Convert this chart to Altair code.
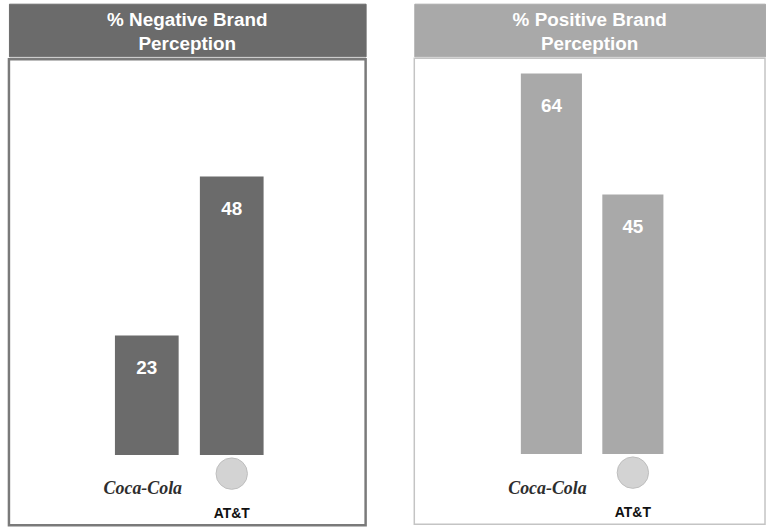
import altair as alt
import pandas as pd

brands = ["Coca-Cola", "AT&T"]
negative = [23, 48]
positive = [64, 45]
titles = ["% Negative Brand\nPerception", "% Positive Brand\nPerception"]

HEADER_H = 53
BODY_H = 469


def panel(title, values, color, border, border_w, width, x_range):
    df = pd.DataFrame({"brand": brands, "value": values})

    header = (
        alt.Chart(pd.DataFrame({"t": [title]}))
        .mark_text(color="white", font="Liberation Sans", fontWeight="bold",
                   fontSize=19, lineBreak="\n", lineHeight=25,
                   baseline="middle", align="center")
        .encode(text="t:N", x=alt.value(width / 2), y=alt.value(16))
        .properties(width=width, height=HEADER_H,
                    view=alt.ViewBackground(fill=color, stroke=color))
    )

    x = alt.X("brand:N", sort=brands, axis=None,
              scale=alt.Scale(paddingInner=0.25, paddingOuter=0.125, range=x_range))
    y = alt.Y("value:Q", axis=None,
              scale=alt.Scale(domain=[-6.8, 66.4], zero=False, nice=False))

    base = alt.Chart(df)
    bars = base.mark_bar(color=color).encode(x=x, y=y, y2=alt.datum(4.25))
    labels = base.mark_text(dy=33, color="white", font="Liberation Sans",
                            fontWeight="bold", fontSize=19).encode(
        x=x, y=y, text="value:Q")

    coke_df = pd.DataFrame({"brand": ["Coca-Cola"], "logo": ["Coca-Cola"]})
    att_df = pd.DataFrame({"brand": ["AT&T"], "logo": ["AT&T"]})

    coke = alt.Chart(coke_df).mark_text(
        font="Liberation Serif", fontStyle="italic", fontWeight="bold",
        fontSize=18, color="#2e2e2e", dx=-4).encode(
        x=x, y=alt.value(433), text="logo:N")
    globe = alt.Chart(att_df).mark_point(
        shape="circle", filled=True, size=1000, color="#d3d3d3",
        stroke="#bdbdbd", strokeWidth=1, opacity=1).encode(x=x, y=alt.value(417))
    att = alt.Chart(att_df).mark_text(
        font="Liberation Sans", fontWeight="bold", fontSize=14,
        color="#111111").encode(x=x, y=alt.value(458), text="logo:N")

    body = alt.layer(bars, labels, coke, globe, att).properties(
        width=width, height=BODY_H,
        view=alt.ViewBackground(fill="white", stroke=border, strokeWidth=border_w))

    return alt.vconcat(header, body, spacing=0)


left = panel(titles[0], negative, "#6b6b6b", "#7a7a7a", 2.5, 359, [96, 267])
right = panel(titles[1], positive, "#a9a9a9", "#c4c4c4", 1.5, 353, [97, 261])

chart = alt.hconcat(left, right, spacing=46).properties(
    padding={"left": 7, "top": 1, "right": 0, "bottom": 0},
    background="white",
).resolve_scale(x="independent", y="independent")

chart.save("out.html", embed_options={"renderer": "svg", "actions": False})
